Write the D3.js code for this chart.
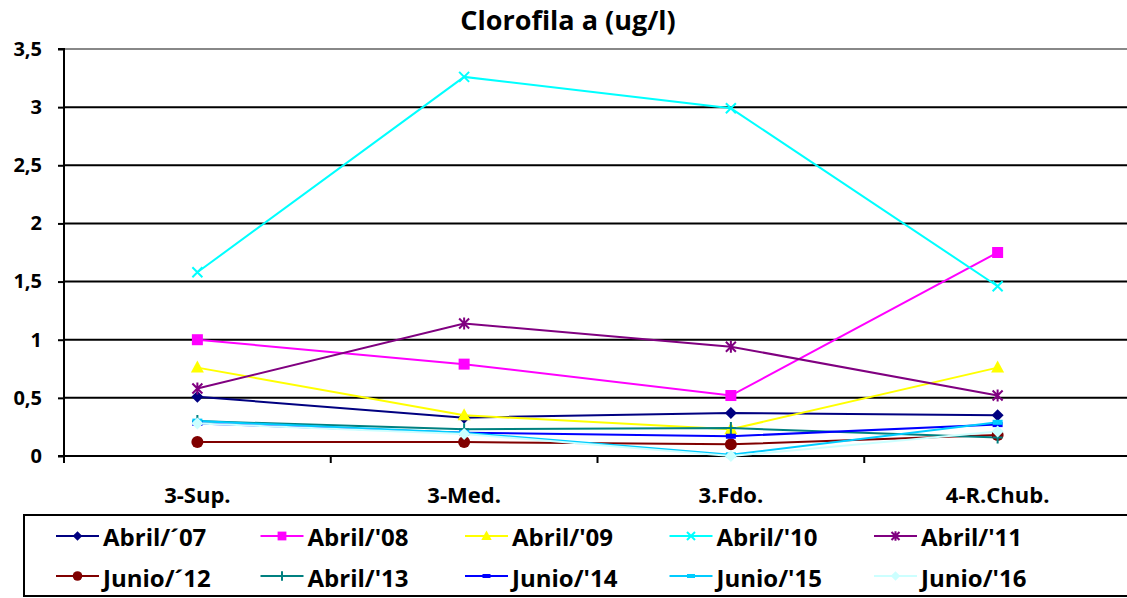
<!DOCTYPE html>
<html><head><meta charset="utf-8">
<script src="https://cdn.jsdelivr.net/npm/d3@7/dist/d3.min.js"></script>
<style>body{margin:0;background:#fff}svg{display:block}text{font-family:"Open Sans",Lato,sans-serif;font-weight:bold}</style>
</head><body><svg id="c" width="1127" height="598"></svg>
<script>
const categories = ["3-Sup.", "3-Med.", "3.Fdo.", "4-R.Chub."];
const seriesNames = ["Abril/´07","Abril/'08","Abril/'09","Abril/'10","Abril/'11","Junio/´12","Abril/'13","Junio/'14","Junio/'15","Junio/'16"];
const abril07 = [0.51, 0.33, 0.37, 0.35];
const abril08 = [1.00, 0.79, 0.52, 1.75];
const abril09 = [0.76, 0.35, 0.23, 0.76];
const abril10 = [1.58, 3.26, 2.99, 1.46];
const abril11 = [0.58, 1.14, 0.94, 0.52];
const junio12 = [0.12, 0.12, 0.10, 0.18];
const abril13 = [0.30, 0.23, 0.24, 0.16];
const junio14 = [0.28, 0.20, 0.17, 0.27];
const junio15 = [0.30, 0.20, 0.01, 0.29];
const junio16 = [0.28, 0.19, 0.00, 0.21];
const yTicks = [0, 0.5, 1, 1.5, 2, 2.5, 3, 3.5];
const yTickLabels = ["0","0,5","1","1,5","2","2,5","3","3,5"];

const values = [abril07,abril08,abril09,abril10,abril11,junio12,abril13,junio14,junio15,junio16];
const colors = ["#000080","#FF00FF","#FFFF00","#00FFFF","#800080","#800000","#008080","#0000FF","#00CCFF","#CCFFFF"];
const markers = ["diamond","square","triangle","x","star","circle","plus","dash","dash","diamond"];

const svg = d3.select("#c");
const pLeft = 64, pRight = 1131, pTop = 49, pBottom = 456;
const x = d3.scaleBand().domain(categories).range([pLeft, pRight]);
const y = d3.scaleLinear().domain([0, 3.5]).range([pBottom, pTop]);

svg.append("text").attr("x", 568).attr("y", 30).attr("text-anchor","middle").attr("font-size", 27).text("Clorofila a (ug/l)");

// gridlines
svg.append("g").selectAll("line").data(yTicks.filter(d=>d>0)).join("line")
  .attr("x1", pLeft).attr("x2", pRight).attr("y1", d=>y(d)).attr("y2", d=>y(d))
  .attr("stroke", d=> d===3.5 ? "#888" : "#000").attr("stroke-width", 2);

// y axis
const ya = svg.append("g").attr("transform", `translate(${pLeft},0)`)
  .call(d3.axisLeft(y).tickValues(yTicks).tickFormat((d,i)=>yTickLabels[i]).tickSize(6).tickPadding(16));
ya.select(".domain").attr("stroke","#000").attr("stroke-width",2).attr("d", `M-6,${pTop}H0V${pBottom}H-6`);
ya.selectAll(".tick line").attr("stroke","#000").attr("stroke-width",2);
ya.selectAll(".tick text").attr("font-size", 20).attr("font-weight","bold").attr("font-family","Open Sans").attr("fill","#000");

// x axis
const xa = svg.append("g").attr("transform", `translate(0,${pBottom})`)
  .call(d3.axisBottom(x).tickSize(0));
xa.select(".domain").remove();
xa.selectAll(".tick text").attr("y", 47).attr("dy", 0).attr("font-size", 22).attr("font-weight","bold").attr("font-family","Open Sans").attr("fill","#000");
svg.append("line").attr("x1", pLeft).attr("x2", pRight).attr("y1", pBottom).attr("y2", pBottom).attr("stroke","#000").attr("stroke-width",2);
const bounds = categories.map(c => x(c)).concat([pRight]);
svg.append("g").selectAll("line").data(bounds).join("line")
  .attr("x1", d=>d).attr("x2", d=>d).attr("y1", pBottom).attr("y2", pBottom+7).attr("stroke","#000").attr("stroke-width",2);

function drawMarker(g, type, color, cx, cy, scale) {
  const s = scale || 1;
  if (type === "diamond") {
    g.append("path").attr("d", `M${cx},${cy-6*s}L${cx+6*s},${cy}L${cx},${cy+6*s}L${cx-6*s},${cy}Z`).attr("fill", color);
  } else if (type === "square") {
    g.append("rect").attr("x", cx-5.5*s).attr("y", cy-5.5*s).attr("width", 11*s).attr("height", 11*s).attr("fill", color);
  } else if (type === "triangle") {
    g.append("path").attr("d", `M${cx},${cy-7*s}L${cx+6.5*s},${cy+5*s}L${cx-6.5*s},${cy+5*s}Z`).attr("fill", color);
  } else if (type === "x") {
    g.append("path").attr("d", `M${cx-5*s},${cy-5*s}L${cx+5*s},${cy+5*s}M${cx-5*s},${cy+5*s}L${cx+5*s},${cy-5*s}`).attr("stroke", color).attr("stroke-width", 2);
  } else if (type === "star") {
    g.append("path").attr("d", `M${cx-5*s},${cy-5*s}L${cx+5*s},${cy+5*s}M${cx-5*s},${cy+5*s}L${cx+5*s},${cy-5*s}M${cx},${cy-6*s}L${cx},${cy+6*s}`).attr("stroke", color).attr("stroke-width", 2);
  } else if (type === "circle") {
    g.append("circle").attr("cx", cx).attr("cy", cy).attr("r", 6*s).attr("fill", color);
  } else if (type === "plus") {
    g.append("path").attr("d", `M${cx-5*s},${cy}L${cx+5*s},${cy}M${cx},${cy-6*s}L${cx},${cy+6*s}`).attr("stroke", color).attr("stroke-width", 2);
  } else if (type === "dash") {
    g.append("rect").attr("x", cx-5*s).attr("y", cy-2.5*s).attr("width", 10*s).attr("height", 5*s).attr("fill", color);
  }
}

const line = d3.line().x((d,i)=>x(categories[i]) + x.bandwidth()/2).y(d=>y(d));
const plot = svg.append("g");
values.forEach((vals, si) => {
  plot.append("path").datum(vals).attr("d", line).attr("fill","none").attr("stroke", colors[si]).attr("stroke-width", 2);
});
values.forEach((vals, si) => {
  const g = plot.append("g");
  vals.forEach((v,i) => drawMarker(g, markers[si], colors[si], x(categories[i]) + x.bandwidth()/2, y(v)));
});

// legend
svg.append("rect").attr("x", 24).attr("y", 515).attr("width", 1110).attr("height", 81).attr("fill","none").attr("stroke","#000").attr("stroke-width",2);
const legX = d3.scaleBand().domain(d3.range(5)).range([56, 56+5*204.5]);
const legY = [536, 576];
const legBase = [546, 587];
seriesNames.forEach((name, si) => {
  const col = si % 5, row = Math.floor(si/5);
  const lx = legX(col), ly = legY[row];
  const g = svg.append("g");
  g.append("line").attr("x1", lx).attr("x2", lx+43).attr("y1", ly).attr("y2", ly).attr("stroke", colors[si]).attr("stroke-width", 2);
  drawMarker(g, markers[si], colors[si], lx+21.5, ly, 0.8);
  g.append("text").attr("x", lx+47).attr("y", legBase[row]).attr("font-size", 24).attr("fill","#000").text(name);
});
</script></body></html>
